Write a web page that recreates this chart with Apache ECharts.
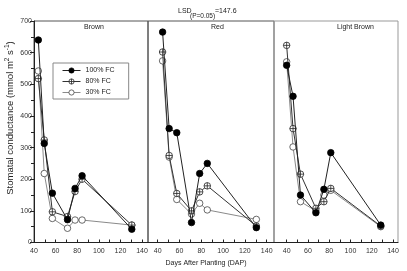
<!DOCTYPE html>
<html>
<head>
<meta charset="utf-8">
<script src="https://cdn.jsdelivr.net/npm/echarts@6/dist/echarts.min.js"></script>
<style>
  html, body { margin: 0; padding: 0; background: #fff; }
  #chart { width: 407px; height: 271px; }
</style>
</head>
<body>
<div id="chart"></div>
<script>
// panels (cultivars) and water levels
const panels = ['Brown', 'Red', 'Light Brown'];
const levels = ['100% FC', '80% FC', '30% FC'];

// days after planting read for each panel
const brownDays = [44, 49.5, 57, 71, 78, 84.5, 130.5];
const redDays = [44.5, 50.5, 57.5, 71, 78.5, 85.5, 130.5];
const lightDays = [40, 46, 53, 67.5, 75, 81.5, 128.5];

// stomatal conductance (mmol m-2 s-1)
const brown100 = [640, 313, 156, 72, 171, 211, 42];
const brown80 = [518, 324, 97, 82, 161, 200, 55];
const brown30 = [542, 218, 76, 45, 71, 71, 55];

const red100 = [665, 360, 347, 63, 218, 250, 47];
const red80 = [602, 275, 155, 100, 160, 179, 52];
const red30 = [574, 270, 136, 90, 124, 103, 73];

const light100 = [560, 462, 150, 94, 168, 284, 55];
const light80 = [623, 360, 216, 108, 129, 171, 52];
const light30 = [571, 302, 129, 100, 150, 165, 50];

const xLabels = [40, 60, 80, 100, 120, 140];
const xTicks = [40, 50, 60, 70, 80, 90, 100, 110, 120, 130, 140];

const days = [brownDays, redDays, lightDays];
const values = [
    [brown100, brown80, brown30],
    [red100, red80, red30],
    [light100, light80, light30]
];

const FONT = 'Liberation Sans, Arial, sans-serif';
const crossCircle = 'path://M10,0A10,10,0,1,1,10,20A10,10,0,1,1,10,0ZM10,0L10,20M0,10L20,10';

// look of each water level
const looks = [
    { symbol: 'circle', color: '#000', border: '#000', line: '#222', z: 5 },
    { symbol: crossCircle, color: '#fff', border: '#222', line: '#333', z: 4 },
    { symbol: 'circle', color: '#fff', border: '#444', line: '#8a8a8a', z: 3 }
];

const gridPos = [
    { left: 34, width: 114 },
    { left: 148, width: 126 },
    { left: 274, width: 124 }
];
const xRange = [[40, 145.5], [31.1, 146.7], [28.1, 144.7]];

const grids = gridPos.map((g, i) => ({
    left: g.left, width: g.width, top: 21, height: 221.5,
    show: true,
    borderColor: i === 2 ? '#999' : '#555',
    borderWidth: 1
}));

const xAxes = panels.map((p, i) => ({
    type: 'value',
    gridIndex: i,
    min: xRange[i][0],
    max: xRange[i][1],
    axisLine: { show: true, onZero: false, lineStyle: { color: '#222', width: 1 } },
    axisTick: { show: true, inside: true, length: 3, customValues: xTicks, lineStyle: { color: '#222' } },
    axisLabel: { show: true, customValues: xLabels, color: '#333', fontSize: 7, fontFamily: FONT, margin: 5 },
    splitLine: { show: false }
}));

const yAxes = panels.map((p, i) => ({
    type: 'value',
    gridIndex: i,
    min: 0,
    max: 700,
    interval: 100,
    axisLine: { show: i === 0, lineStyle: { color: '#222' } },
    axisTick: { show: i === 0, length: 4, lineStyle: { color: '#222' } },
    minorTick: { show: i === 0, splitNumber: 2, length: 3, lineStyle: { color: '#222' } },
    axisLabel: { show: i === 0, color: '#333', fontSize: 7, fontFamily: FONT, margin: 2 },
    splitLine: { show: false }
}));

const series = [];
panels.forEach((p, i) => {
    levels.forEach((lv, k) => {
        const lk = looks[k];
        series.push({
            name: lv,
            type: 'line',
            xAxisIndex: i,
            yAxisIndex: i,
            data: days[i].map((d, j) => [d, values[i][k][j]]),
            symbol: lk.symbol,
            symbolSize: 6.5,
            showAllSymbol: true,
            z: lk.z,
            itemStyle: { color: lk.color, borderColor: lk.border, borderWidth: 0.8 },
            lineStyle: { color: lk.line, width: 1 },
            emphasis: { disabled: true },
            animation: false
        });
    });
});

const panelTitleX = [84, 211, 337];

const chart = echarts.init(document.getElementById('chart'));
chart.setOption({
    backgroundColor: '#fff',
    animation: false,
    grid: grids,
    xAxis: xAxes,
    yAxis: yAxes,
    legend: {
        data: levels.map((lv, k) => ({
            name: lv,
            itemStyle: { color: looks[k].color, borderColor: looks[k].border, borderWidth: 0.8 },
            lineStyle: { color: looks[k].line, width: 1 }
        })),
        orient: 'vertical',
        left: 53,
        top: 63,
        itemWidth: 18,
        itemHeight: 6.5,
        itemGap: 4,
        padding: [4, 14, 3, 9],
        borderColor: '#888',
        borderWidth: 1,
        backgroundColor: '#fff',
        textStyle: { fontSize: 7, color: '#222', fontFamily: FONT }
    },
    graphic: [
        ...panels.map((p, i) => ({
            type: 'text', left: panelTitleX[i], top: 24,
            style: { text: p, fontSize: 7, fill: '#222', fontFamily: FONT, textAlign: 'center' }
        })),
        { type: 'text', x: 178, y: 8, style: { text: 'LSD', fontSize: 7, fill: '#222', fontFamily: FONT } },
        { type: 'text', x: 190, y: 13, style: { text: '(P=0.05)', fontSize: 6.5, fill: '#222', fontFamily: FONT } },
        { type: 'text', x: 215, y: 8, style: { text: '=147.6', fontSize: 7, fill: '#222', fontFamily: FONT } },
        {
            type: 'text', x: 206, y: 263,
            style: { text: 'Days After Planting (DAP)', fontSize: 7, fill: '#222', fontFamily: FONT, align: 'center', verticalAlign: 'middle' }
        },
        {
            type: 'text', x: 10, y: 118, rotation: Math.PI / 2,
            style: {
                text: 'Stomatal conductance (mmol m{s|2} s{s|-1})',
                fontSize: 9.5, fill: '#222', fontFamily: FONT, align: 'center', verticalAlign: 'middle',
                rich: { s: { fontSize: 6.5, fill: '#222', fontFamily: FONT, padding: [0, 0, 6, 0] } }
            }
        }
    ],
    series: series
});
</script>
</body>
</html>
